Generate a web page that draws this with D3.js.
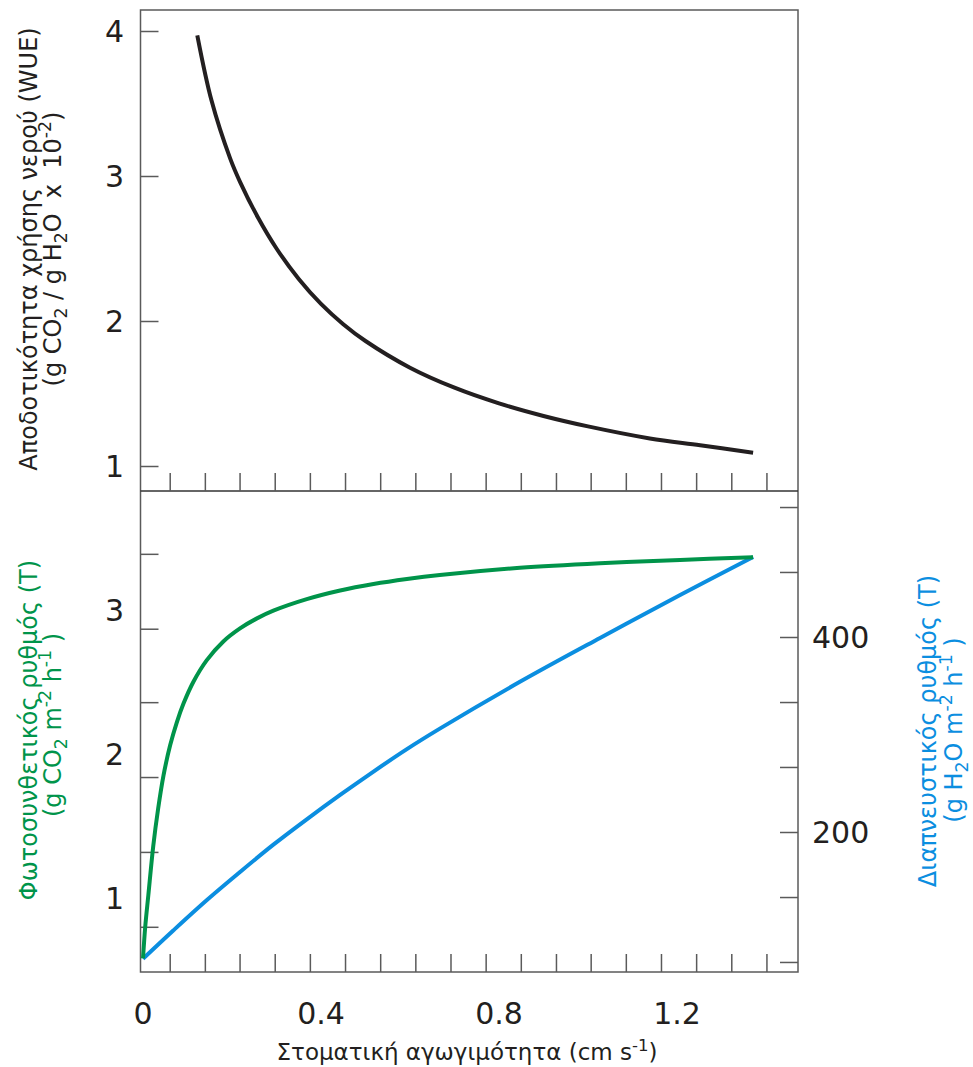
<!DOCTYPE html>
<html>
<head>
<meta charset="utf-8">
<script src="https://cdn.jsdelivr.net/npm/d3@7"></script>
<style>
  body { margin: 0; background: #fff; }
  svg text { font-family: "DejaVu Sans", Verdana, sans-serif; white-space: pre; }
</style>
</head>
<body>
<div id="ChartArea"></div>
<script>
// ------------------------------------------------------------------
//  data
// ------------------------------------------------------------------

// top panel : water use efficiency (WUE)
const wueX = [0.122, 0.154, 0.196, 0.218, 0.259, 0.30, 0.35, 0.40, 0.45, 0.50, 0.60, 0.70, 0.80, 0.90, 1.00, 1.139, 1.252, 1.371];
const wueY = [3.97, 3.52, 3.12, 2.96, 2.71, 2.50, 2.29, 2.118, 1.978, 1.862, 1.678, 1.54, 1.432, 1.345, 1.273, 1.19, 1.143, 1.092];

// bottom panel : photosynthesis (left axis)
const photoX = [0, 0.005, 0.012, 0.023, 0.034, 0.046, 0.061, 0.076, 0.091, 0.113, 0.143, 0.18, 0.218, 0.255, 0.293, 0.368, 0.443, 0.518, 0.593, 0.667, 0.847, 1.027, 1.207, 1.371];
const photoY = [0.58, 0.80, 1.02, 1.36, 1.62, 1.85, 2.06, 2.22, 2.35, 2.50, 2.65, 2.78, 2.872, 2.94, 2.995, 3.075, 3.135, 3.18, 3.215, 3.243, 3.293, 3.325, 3.348, 3.366];

// bottom panel : transpiration (right axis)
const transX = [0, 0.068, 0.143, 0.218, 0.293, 0.368, 0.443, 0.518, 0.593, 0.667, 0.847, 1.027, 1.207, 1.371];
const transY = [70, 99, 130, 159, 187, 213, 238, 262, 285, 306, 354, 399, 443, 482];

// tick labels
const xTickLabels = [0, 0.4, 0.8, 1.2];
const wueTickLabels = [1, 2, 3, 4];
const photoTickLabels = [1, 2, 3];
const transTickLabels = [200, 400];

// unlabeled small ticks
const xMinorTicks = [0.060, 0.139, 0.217, 0.296, 0.375, 0.454, 0.533, 0.612, 0.691, 0.770, 0.849, 0.928, 1.006, 1.085, 1.164, 1.243, 1.322, 1.401];
const photoMinorTicks = [0.80, 1.32, 1.84, 2.36, 2.87, 3.39];
const transMinorTicks = [66.7, 133.3, 200, 266.7, 333.3, 400, 466.7, 533.3];

// ------------------------------------------------------------------
const W = 973, H = 1067;
const frame = {left: 140.5, right: 798, top: 10, mid: 491, bottom: 972};
const tickLen = 18;
const GREEN = "#00944a", BLUE = "#0b8ee0", INK = "#231f20", AXIS = "#5a5a5a";

const svg = d3.select("#ChartArea").append("svg")
    .attr("width", W)
    .attr("height", H);

// scales
const x = d3.scaleLinear().domain([0, 1.2]).range([143, 677]);
const yWue = d3.scaleLinear().domain([1, 4]).range([466, 31]);
const yPhoto = d3.scaleLinear().domain([1, 3]).range([898, 610]);
const yTrans = d3.scaleLinear().domain([200, 400]).range([832, 637]);

// frame
svg.append("rect")
    .attr("x", frame.left).attr("y", frame.top)
    .attr("width", frame.right - frame.left)
    .attr("height", frame.bottom - frame.top)
    .attr("fill", "none").attr("stroke", AXIS).attr("stroke-width", 1.5);
svg.append("line")
    .attr("x1", frame.left).attr("x2", frame.right)
    .attr("y1", frame.mid).attr("y2", frame.mid)
    .attr("stroke", "#333").attr("stroke-width", 1.6);

// axes (ticks only, inside the frame, no domain line)
function cleanAxis(g) {
  g.select(".domain").remove();
  g.selectAll(".tick line").attr("stroke", AXIS).attr("stroke-width", 1.5);
}

function tickLabels(values, xpos, ypos, anchor, dy) {
  svg.append("g").selectAll("text")
    .data(values)
    .enter().append("text")
      .attr("x", xpos)
      .attr("y", ypos)
      .attr("dy", dy)
      .attr("text-anchor", anchor)
      .attr("font-size", 30)
      .attr("fill", INK)
      .text(d => d);
}

// top panel left ticks + labels
svg.append("g")
    .attr("transform", "translate(" + frame.left + ",0)")
    .call(d3.axisRight(yWue).tickValues(wueTickLabels).tickSize(tickLen).tickFormat(""))
    .call(cleanAxis);
tickLabels(wueTickLabels, 124, d => yWue(d), "end", "0.36em");

// x minor ticks on the divider (top panel) and on the bottom
svg.append("g")
    .attr("transform", "translate(0," + frame.mid + ")")
    .call(d3.axisTop(x).tickValues(xMinorTicks).tickSize(tickLen).tickFormat(""))
    .call(cleanAxis);
svg.append("g")
    .attr("transform", "translate(0," + frame.bottom + ")")
    .call(d3.axisTop(x).tickValues(xMinorTicks).tickSize(tickLen).tickFormat(""))
    .call(cleanAxis);

// bottom panel left ticks
svg.append("g")
    .attr("transform", "translate(" + frame.left + ",0)")
    .call(d3.axisRight(yPhoto).tickValues(photoMinorTicks).tickSize(tickLen).tickFormat(""))
    .call(cleanAxis);
tickLabels(photoTickLabels, 124, d => yPhoto(d), "end", "0.36em");

// bottom panel right ticks
svg.append("g")
    .attr("transform", "translate(" + frame.right + ",0)")
    .call(d3.axisLeft(yTrans).tickValues(transMinorTicks).tickSize(tickLen).tickFormat(""))
    .call(cleanAxis);
tickLabels(transTickLabels, 812, d => yTrans(d), "start", "0.36em");

// x tick labels
tickLabels(xTickLabels, d => x(d), 1024, "middle", 0);

// curves
const line = d3.line().curve(d3.curveCatmullRom.alpha(0.5));

svg.append("path")
    .attr("d", line(wueX.map((d, i) => [x(d), yWue(wueY[i])])))
    .attr("fill", "none").attr("stroke", INK).attr("stroke-width", 4);

svg.append("path")
    .attr("d", line(transX.map((d, i) => [x(d), yTrans(transY[i])])))
    .attr("fill", "none").attr("stroke", BLUE).attr("stroke-width", 4);

svg.append("path")
    .attr("d", line(photoX.map((d, i) => [x(d), yPhoto(photoY[i])])))
    .attr("fill", "none").attr("stroke", GREEN).attr("stroke-width", 4);

// ------------------------------------------------------------------
// titles with sub / superscripts
function richText(g, parts, size) {
  var shift = 0;
  parts.forEach(function(p) {
    var target = 0;
    if (p[1] === "sub") target = size * 0.25;
    if (p[1] === "sup") target = -size * 0.4;
    const t = g.append("tspan").text(p[0]).attr("dy", target - shift);
    if (p[1]) t.attr("font-size", size * 0.72);
    shift = target;
  });
}

function rotatedLabel(cx, cy, parts, size, color) {
  const t = svg.append("text")
      .attr("transform", "translate(" + cx + "," + cy + ") rotate(-90)")
      .attr("text-anchor", "middle")
      .attr("font-size", size)
      .attr("fill", color);
  richText(t, parts, size);
}

rotatedLabel(37, 249, [["Αποδοτικότητα χρήσης νερού (WUE)"]], 24, INK);
rotatedLabel(61, 249, [["(g CO"], ["2", "sub"], [" / g H"], ["2", "sub"], ["O  x  10"], ["-2", "sup"], [")"]], 24, INK);

rotatedLabel(37, 730, [["Φωτοσυνθετικός ρυθμός (T)"]], 24, GREEN);
rotatedLabel(61, 725, [["(g CO"], ["2", "sub"], [" m"], ["-2", "sup"], [" h"], ["-1", "sup"], [" )"]], 24, GREEN);

rotatedLabel(936, 731, [["Διαπνευστικός ρυθμός (T)"]], 24, BLUE);
rotatedLabel(962, 730, [["(g H"], ["2", "sub"], ["O m"], ["-2", "sup"], [" h"], ["-1", "sup"], [" )"]], 24, BLUE);

const xt = svg.append("text")
    .attr("x", 467).attr("y", 1060)
    .attr("text-anchor", "middle")
    .attr("font-size", 23)
    .attr("fill", INK);
richText(xt, [["Στοματική αγωγιμότητα (cm s"], ["-1", "sup"], [")"]], 23);
</script>
</body>
</html>
